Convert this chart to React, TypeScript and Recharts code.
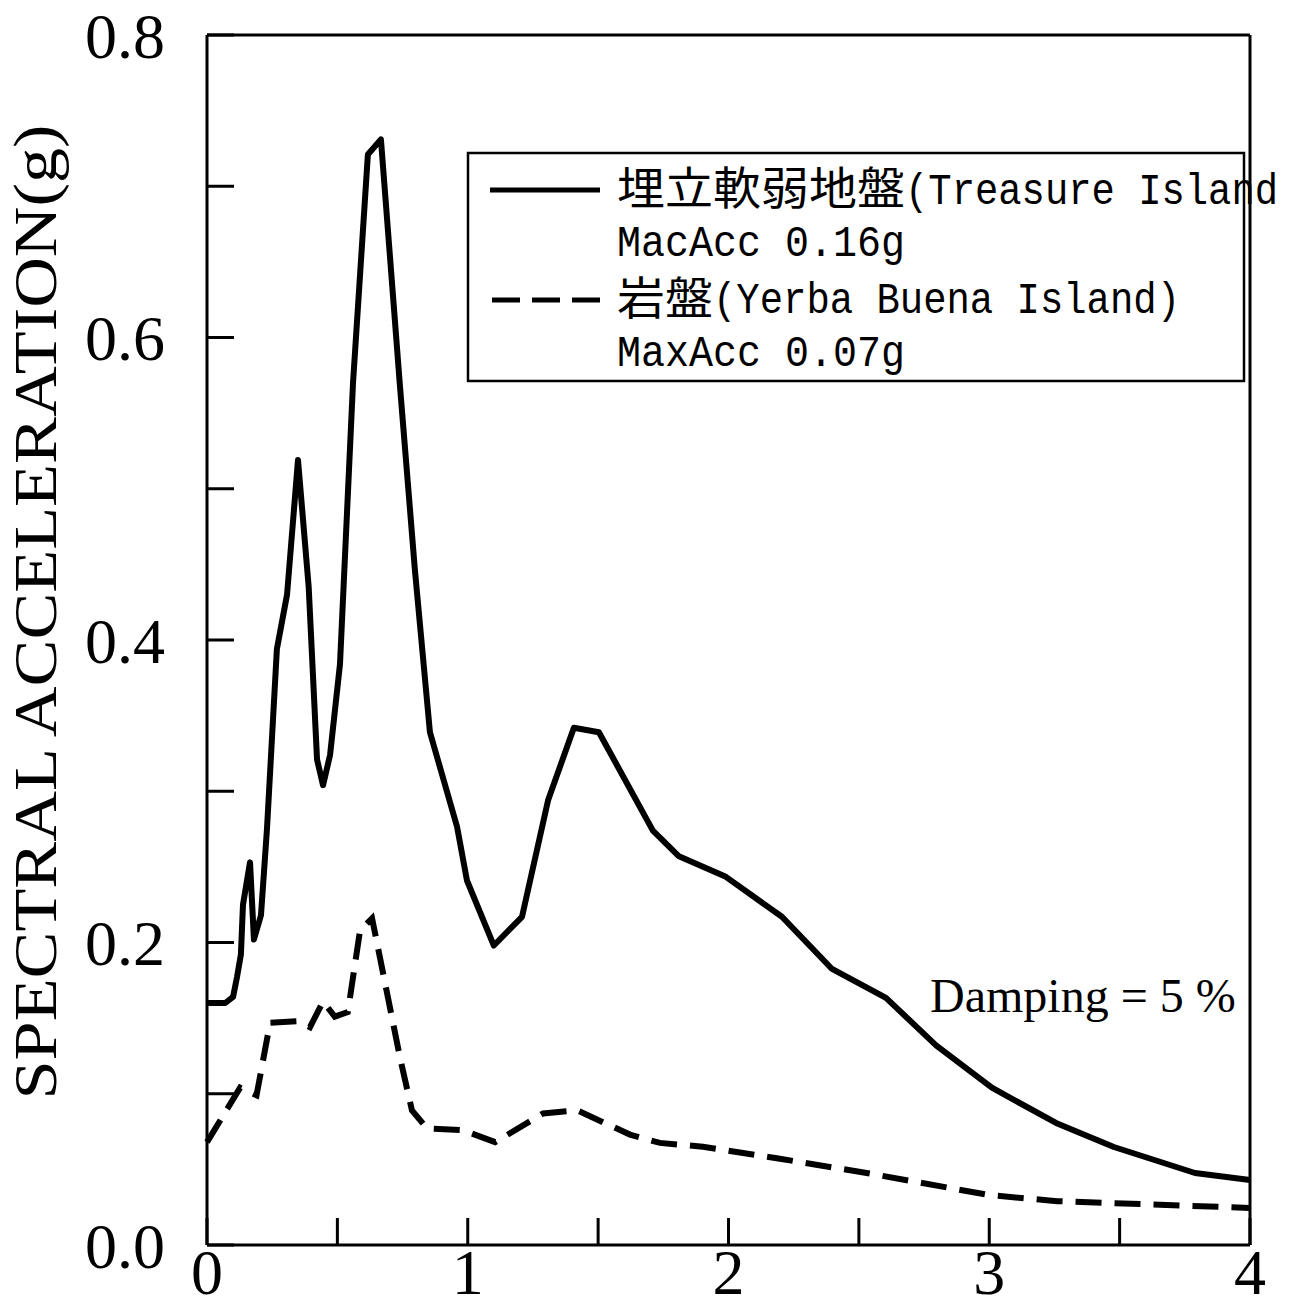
import React from 'react';
import { LineChart, Line, XAxis, YAxis, ReferenceLine, Customized } from 'recharts';

// period (s) vs spectral acceleration (g)
const treasurePeriod = [
  0, 0.07, 0.1, 0.115, 0.13, 0.138, 0.165, 0.18, 0.207, 0.23, 0.268, 0.307, 0.349, 0.39,
  0.422, 0.445, 0.472, 0.51, 0.56, 0.617, 0.667, 0.74, 0.797, 0.855, 0.959, 0.997, 1.1,
  1.208, 1.308, 1.407, 1.503, 1.71, 1.81, 1.99, 2.205, 2.397, 2.604, 2.796, 3.01, 3.256,
  3.478, 3.789, 4.0,
];
const treasureSa = [
  0.16, 0.16, 0.164, 0.177, 0.192, 0.225, 0.253, 0.202, 0.218, 0.275, 0.394, 0.43, 0.519, 0.435,
  0.321, 0.304, 0.324, 0.384, 0.57, 0.721, 0.731, 0.568, 0.447, 0.339, 0.2765, 0.241, 0.198,
  0.217, 0.294, 0.342, 0.339, 0.274, 0.257, 0.2434, 0.217, 0.1825, 0.1634, 0.132, 0.104, 0.0807,
  0.0648, 0.0476, 0.043,
];

const yerbaPeriod = [
  0, 0.127, 0.19, 0.242, 0.35, 0.395, 0.445, 0.49, 0.54, 0.587, 0.633, 0.74, 0.786, 0.844,
  0.98, 1.105, 1.289, 1.42, 1.622, 1.737, 1.902, 2.197, 2.53, 3.0, 3.26, 4.0,
];
const yerbaSa = [
  0.068, 0.104, 0.099, 0.147, 0.148, 0.144, 0.161, 0.151, 0.154, 0.208, 0.216, 0.124, 0.089, 0.077,
  0.076, 0.068, 0.087, 0.089, 0.073, 0.0675, 0.065, 0.057, 0.0476, 0.033, 0.029, 0.0245,
];

const xTicks = [0, 0.5, 1, 1.5, 2, 2.5, 3, 3.5, 4];
const yTicks = [0, 0.1, 0.2, 0.3, 0.4, 0.5, 0.6, 0.7, 0.8];

const treasureData = treasurePeriod.map((x, i) => ({ x, y: treasureSa[i] }));
const yerbaData = yerbaPeriod.map((x, i) => ({ x, y: yerbaSa[i] }));

const serif = "'Liberation Serif', 'Times New Roman', serif";
const mono = "'Liberation Mono', monospace";
const cjk = "'Noto Sans CJK JP', sans-serif";

const Overlay = () => (
  <g fill="#000">
    <text
      transform="translate(56,612) rotate(-90)"
      textAnchor="middle"
      fontFamily={serif}
      fontSize={62}
      textLength={975}
      lengthAdjust="spacingAndGlyphs"
    >
      SPECTRAL ACCELERATION(g)
    </text>

    <rect x={468} y={153} width={776} height={228} fill="#fff" stroke="#000" strokeWidth={2.5} />
    <line x1={490} x2={600} y1={190} y2={190} stroke="#000" strokeWidth={5} />
    <line x1={492} x2={600} y1={300} y2={300} stroke="#000" strokeWidth={5} strokeDasharray="28 12" />

    <text x={617} y={205} fontFamily={cjk} fontSize={45} textLength={288} lengthAdjust="spacingAndGlyphs">埋立軟弱地盤</text>
    <text x={905} y={204} fontFamily={mono} fontSize={44} textLength={373} lengthAdjust="spacingAndGlyphs">(Treasure Island</text>
    <text x={617} y={256} fontFamily={mono} fontSize={44} textLength={288} lengthAdjust="spacingAndGlyphs">MacAcc 0.16g</text>
    <text x={617} y={315} fontFamily={cjk} fontSize={45} textLength={96} lengthAdjust="spacingAndGlyphs">岩盤</text>
    <text x={713} y={313} fontFamily={mono} fontSize={44} textLength={467} lengthAdjust="spacingAndGlyphs">(Yerba Buena Island)</text>
    <text x={617} y={366} fontFamily={mono} fontSize={44} textLength={288} lengthAdjust="spacingAndGlyphs">MaxAcc 0.07g</text>

    <text x={930} y={1012} fontFamily={serif} fontSize={48}>Damping = 5 %</text>
  </g>
);

export default function App() {
  return (
    <div style={{ position: 'absolute', left: 0, top: 0, width: 1297, height: 1301, background: '#fff' }}>
      <LineChart
        width={1297}
        height={1301}
        margin={{ top: 35, right: 47, bottom: 6, left: 57 }}
      >
        <XAxis
          type="number"
          dataKey="x"
          domain={[0, 4]}
          ticks={xTicks}
          interval={0}
          height={50}
          tickSize={-27}
          tickMargin={31}
          axisLine={{ stroke: '#000', strokeWidth: 3 }}
          tickLine={{ stroke: '#000', strokeWidth: 3 }}
          tick={{ fill: '#000', fontSize: 64, fontFamily: serif }}
          tickFormatter={(v: number) => (Number.isInteger(v) ? String(v) : '')}
        />
        <YAxis
          type="number"
          domain={[0, 0.8]}
          ticks={yTicks}
          interval={0}
          width={150}
          tickSize={-27}
          tickMargin={69}
          axisLine={{ stroke: '#000', strokeWidth: 3 }}
          tickLine={{ stroke: '#000', strokeWidth: 3 }}
          tick={{ fill: '#000', fontSize: 64, fontFamily: serif }}
          tickFormatter={(v: number) => (Math.round(v * 10) % 2 === 0 ? v.toFixed(1) : '')}
        />
        <ReferenceLine y={0.8} stroke="#000" strokeWidth={3} />
        <ReferenceLine x={4} stroke="#000" strokeWidth={3} />
        <Line
          data={yerbaData}
          dataKey="y"
          type="linear"
          stroke="#000"
          strokeWidth={6}
          strokeDasharray="26 13"
          dot={false}
          activeDot={false}
          isAnimationActive={false}
        />
        <Line
          data={treasureData}
          dataKey="y"
          type="linear"
          stroke="#000"
          strokeWidth={6}
          strokeLinejoin="round"
          dot={false}
          activeDot={false}
          isAnimationActive={false}
        />
        <Customized component={Overlay} />
      </LineChart>
    </div>
  );
}
